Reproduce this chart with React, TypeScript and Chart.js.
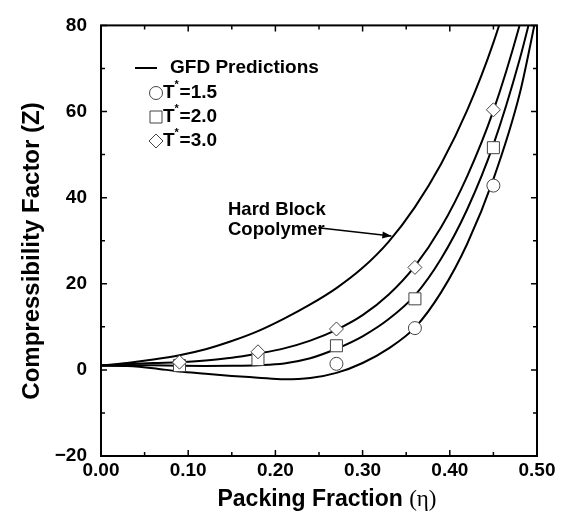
import React, { useEffect, useRef } from 'react';
import { Chart, registerables } from 'chart.js';

Chart.register(...registerables);

// ---------- data ----------
const etaGrid = [0, 0.03, 0.06, 0.09, 0.12, 0.15, 0.18, 0.21, 0.24, 0.27, 0.30, 0.33, 0.36, 0.39, 0.42, 0.45, 0.48, 0.50];
const hardBlockZ = [1.0, 1.6, 2.4, 3.4, 4.8, 6.7, 9.0, 11.9, 15.2, 19.0, 23.7, 29.8, 37.8, 47.8, 60.3, 76.0, 96.0, 112.0];
const gfdT30Z = [1.0, 1.3, 1.6, 1.8, 2.2, 2.8, 3.8, 5.0, 6.8, 9.3, 12.7, 17.5, 24.1, 33.1, 45.0, 60.2, 80.0, 96.0];
const gfdT20Z = [1.0, 1.1, 1.05, 0.95, 0.9, 0.95, 1.1, 1.5, 2.7, 4.9, 7.8, 11.8, 17.3, 25.8, 37.3, 52.3, 72.0, 88.0];
const gfdT15Z = [1.0, 0.9, 0.4, -0.4, -0.9, -1.4, -1.8, -2.2, -1.9, -0.7, 1.6, 5.0, 9.8, 18.0, 29.3, 44.3, 64.0, 83.0];

const simEta = [0.09, 0.18, 0.27, 0.36, 0.45];
const simT15Z: (number | null)[] = [null, null, 1.4, 9.7, 42.8];
const simT20Z: (number | null)[] = [1.0, 2.4, 5.6, 16.5, 51.6];
const simT30Z: (number | null)[] = [1.8, 4.2, 9.5, 23.8, 60.4];

const xTicks = [0, 0.1, 0.2, 0.3, 0.4, 0.5];
const xMinorTicks = [0.05, 0.15, 0.25, 0.35, 0.45];
const yTicks = [-20, 0, 20, 40, 60, 80];
const yMinorTicks = [-10, 10, 30, 50, 70];

const xTitle = 'Packing Fraction ';
const xTitleSymbol = '(\u03b7)';
const yTitle = 'Compressibility Factor (Z)';
const legendLineLabel = 'GFD Predictions';
const legendTemps = ['1.5', '2.0', '3.0'];
const annotationLines = ['Hard Block', 'Copolymer'];

// ---------- style ----------
const SANS = '"Liberation Sans", Arial, Helvetica, sans-serif';
const SERIF = '"Liberation Serif", "Times New Roman", serif';
const MARKER_STROKE = '#444';

function pts(xs: number[], ys: (number | null)[]) {
  return xs.map((x, i) => ({ x, y: ys[i] })).filter((p) => p.y !== null) as { x: number; y: number }[];
}

function drawMarker(ctx: CanvasRenderingContext2D, style: string, x: number, y: number) {
  ctx.save();
  ctx.fillStyle = '#fff';
  ctx.strokeStyle = MARKER_STROKE;
  ctx.lineWidth = 1;
  ctx.beginPath();
  if (style === 'circle') ctx.arc(x, y, 6.5, 0, Math.PI * 2);
  else if (style === 'rect') ctx.rect(x - 6, y - 6, 12, 12);
  else {
    ctx.moveTo(x - 7, y);
    ctx.lineTo(x, y - 7);
    ctx.lineTo(x + 7, y);
    ctx.lineTo(x, y + 7);
    ctx.closePath();
  }
  ctx.fill();
  ctx.stroke();
  ctx.restore();
}

const decorPlugin = {
  id: 'decor',
  afterDraw(chart: any) {
    const { ctx, chartArea: a, scales } = chart;
    const xs = scales.x;
    const ys = scales.y;
    ctx.save();
    // ticks (inward, all four sides)
    ctx.strokeStyle = '#000';
    ctx.lineWidth = 1.5;
    const tickX = (v: number, len: number) => {
      const p = xs.getPixelForValue(v);
      ctx.beginPath();
      ctx.moveTo(p, a.bottom);
      ctx.lineTo(p, a.bottom - len);
      ctx.moveTo(p, a.top);
      ctx.lineTo(p, a.top + len);
      ctx.stroke();
    };
    const tickY = (v: number, len: number) => {
      const p = ys.getPixelForValue(v);
      ctx.beginPath();
      ctx.moveTo(a.left, p);
      ctx.lineTo(a.left + len, p);
      ctx.moveTo(a.right, p);
      ctx.lineTo(a.right - len, p);
      ctx.stroke();
    };
    xTicks.forEach((v) => tickX(v, 6));
    xMinorTicks.forEach((v) => tickX(v, 4));
    yTicks.forEach((v) => tickY(v, 6));
    yMinorTicks.forEach((v) => tickY(v, 4));
    // frame
    ctx.lineWidth = 2;
    ctx.strokeRect(a.left, a.top, a.right - a.left, a.bottom - a.top);

    // legend
    ctx.fillStyle = '#000';
    ctx.textBaseline = 'middle';
    ctx.textAlign = 'left';
    ctx.beginPath();
    ctx.lineWidth = 2;
    ctx.moveTo(135, 68);
    ctx.lineTo(157, 68);
    ctx.stroke();
    ctx.font = `bold 19px ${SANS}`;
    ctx.fillText(legendLineLabel, 170, 68);
    const styles = ['circle', 'rect', 'rectRot'];
    const rowsY = [93, 117, 141];
    legendTemps.forEach((t, i) => {
      const y = rowsY[i];
      drawMarker(ctx, styles[i], 156, y);
      ctx.font = `bold 19px ${SANS}`;
      ctx.fillText('T', 163, y);
      const tw = ctx.measureText('T').width;
      ctx.font = `bold 11px ${SANS}`;
      ctx.fillText('*', 163 + tw, y - 8);
      ctx.font = `bold 19px ${SANS}`;
      ctx.fillText('=' + t, 163 + tw + 5, y);
    });

    // annotation
    ctx.font = `bold 18.5px ${SANS}`;
    ctx.fillText(annotationLines[0], 228, 210);
    ctx.fillText(annotationLines[1], 228, 230);
    const x0 = xs.getPixelForValue(0.249), y0 = ys.getPixelForValue(33.0);
    const x1 = xs.getPixelForValue(0.333), y1 = ys.getPixelForValue(31.1);
    ctx.lineWidth = 1.5;
    ctx.beginPath();
    ctx.moveTo(x0, y0);
    ctx.lineTo(x1, y1);
    ctx.stroke();
    const ang = Math.atan2(y1 - y0, x1 - x0);
    ctx.beginPath();
    ctx.moveTo(x1, y1);
    ctx.lineTo(x1 - 9 * Math.cos(ang) + 3.5 * Math.sin(ang), y1 - 9 * Math.sin(ang) - 3.5 * Math.cos(ang));
    ctx.lineTo(x1 - 9 * Math.cos(ang) - 3.5 * Math.sin(ang), y1 - 9 * Math.sin(ang) + 3.5 * Math.cos(ang));
    ctx.closePath();
    ctx.fill();

    // axis titles
    ctx.font = `bold 23px ${SANS}`;
    const w1 = ctx.measureText(xTitle).width;
    ctx.font = `23px ${SERIF}`;
    const w2 = ctx.measureText(xTitleSymbol).width;
    const sx = 327 - (w1 + w2) / 2;
    ctx.font = `bold 23px ${SANS}`;
    ctx.fillText(xTitle, sx, 500);
    ctx.font = `23px ${SERIF}`;
    ctx.fillText(xTitleSymbol, sx + w1, 500);

    ctx.translate(32, 251);
    ctx.rotate(-Math.PI / 2);
    ctx.textAlign = 'center';
    ctx.font = `bold 24px ${SANS}`;
    ctx.fillText(yTitle, 0, 0);
    ctx.restore();
  },
};

const lineDs = (data: { x: number; y: number }[]) => ({
  type: 'line' as const,
  data,
  borderColor: '#000',
  borderWidth: 2,
  pointRadius: 0,
  fill: false,
  cubicInterpolationMode: 'monotone' as const,
});

const markerDs = (data: { x: number; y: number }[], style: string, radius: number) => ({
  type: 'scatter' as const,
  data,
  showLine: false,
  pointStyle: style,
  pointRadius: radius,
  pointBackgroundColor: '#fff',
  pointBorderColor: MARKER_STROKE,
  pointBorderWidth: 1,
});

export default function App() {
  const ref = useRef<HTMLCanvasElement>(null);
  useEffect(() => {
    if (!ref.current) return;
    const tickFont = { family: SANS, size: 19, weight: 'bold' as const };
    const chart = new Chart(ref.current, {
      type: 'scatter',
      data: {
        datasets: [
          markerDs(pts(simEta, simT30Z), 'rectRot', 7) as any,
          markerDs(pts(simEta, simT20Z), 'rect', 8.5) as any,
          markerDs(pts(simEta, simT15Z), 'circle', 6.5) as any,
          lineDs(pts(etaGrid, hardBlockZ)) as any,
          lineDs(pts(etaGrid, gfdT30Z)) as any,
          lineDs(pts(etaGrid, gfdT20Z)) as any,
          lineDs(pts(etaGrid, gfdT15Z)) as any,
        ],
      },
      options: {
        responsive: false,
        animation: false,
        layout: { padding: { top: 20, right: 24, left: 0, bottom: 0 } },
        plugins: { legend: { display: false }, tooltip: { enabled: false } },
        scales: {
          x: {
            type: 'linear',
            min: 0,
            max: 0.5,
            grid: { display: false, drawTicks: false },
            border: { display: false },
            afterBuildTicks: (s: any) => {
              s.ticks = xTicks.map((v) => ({ value: v }));
            },
            afterFit: (s: any) => {
              s.height = 58;
            },
            ticks: {
              font: tickFont,
              color: '#000',
              padding: 3,
              maxRotation: 0,
              autoSkip: false,
              callback: (v: any) => Number(v).toFixed(2),
            },
          },
          y: {
            type: 'linear',
            min: -20,
            max: 80,
            grid: { display: false, drawTicks: false },
            border: { display: false },
            afterBuildTicks: (s: any) => {
              s.ticks = yTicks.map((v) => ({ value: v }));
            },
            afterFit: (s: any) => {
              s.width = 101;
            },
            ticks: {
              font: tickFont,
              color: '#000',
              padding: 14,
              autoSkip: false,
              callback: (v: any) => (Number(v) < 0 ? '\u2212' + Math.abs(Number(v)) : String(v)),
            },
          },
        },
      },
      plugins: [decorPlugin],
    });
    return () => chart.destroy();
  }, []);
  return (
    <div style={{ position: 'absolute', left: 0, top: 0, width: 561, height: 514, background: '#fff' }}>
      <canvas ref={ref} width={561} height={514} style={{ width: 561, height: 514 }} />
    </div>
  );
}
